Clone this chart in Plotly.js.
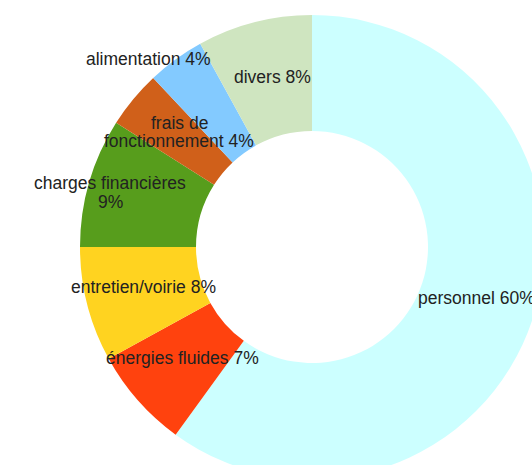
<!DOCTYPE html>
<html>
<head>
<meta charset="utf-8">
<script src="https://cdn.plot.ly/plotly-3.0.1.min.js"></script>
<style>
  html, body { margin: 0; padding: 0; background: #ffffff; }
  #wrap { position: relative; width: 532px; height: 465px; overflow: hidden; background: #ffffff; }
  #chart { position: absolute; left: 0; top: 0; width: 560px; height: 500px; }
</style>
</head>
<body>
<div id="wrap"><div id="chart"></div></div>
<script>
// Data
const categories = ["personnel", "énergies fluides", "entretien/voirie", "charges financières", "frais de fonctionnement", "alimentation", "divers"];
const values = [60, 7, 8, 9, 4, 4, 8];
const percentLabels = ["60%", "7%", "8%", "9%", "4%", "4%", "8%"];
const labelLines = [
  ["personnel 60%"],
  ["énergies fluides 7%"],
  ["entretien/voirie 8%"],
  ["charges financières", "9%"],
  ["frais de", "fonctionnement 4%"],
  ["alimentation 4%"],
  ["divers 8%"]
];

// Styles / layout
const colors = ["#CCFFFF", "#FF420E", "#FFD320", "#579D1C", "#D0601A", "#83CAFF", "#CFE5C0"];
const W = 560, H = 500;
const cx = 312, cy = 247, R = 232;
// label centres in page pixels (layout only)
const labelPos = [[476, 298], [182, 358], [143, 287], [110, 192], [179, 132], [148, 59], [272, 77]];
const lineStep = 19;
const fontSpec = {family: "Liberation Sans, Arial, sans-serif", size: 17.5, color: "#222222"};

const annotations = [];
labelLines.forEach((lines, i) => {
  const n = lines.length;
  lines.forEach((ln, k) => {
    const py = labelPos[i][1] + (k - (n - 1) / 2) * lineStep;
    annotations.push({
      xref: "paper", yref: "paper",
      x: labelPos[i][0] / W, y: 1 - py / H,
      xanchor: "center", yanchor: "middle",
      text: ln, showarrow: false, font: fontSpec
    });
  });
});

const trace = {
  type: "pie",
  labels: categories,
  values: values,
  customdata: percentLabels,
  sort: false,
  direction: "clockwise",
  rotation: 0,
  hole: 0.5,
  textinfo: "none",
  marker: {colors: colors, line: {width: 0}},
  domain: {x: [(cx - R) / W, (cx + R) / W], y: [1 - (cy + R) / H, 1 - (cy - R) / H]},
  hoverinfo: "label+percent"
};

Plotly.newPlot("chart", [trace], {
  width: W, height: H,
  margin: {l: 0, r: 0, t: 0, b: 0},
  showlegend: false,
  paper_bgcolor: "#ffffff",
  annotations: annotations
}, {displayModeBar: false, staticPlot: true});
</script>
</body>
</html>
